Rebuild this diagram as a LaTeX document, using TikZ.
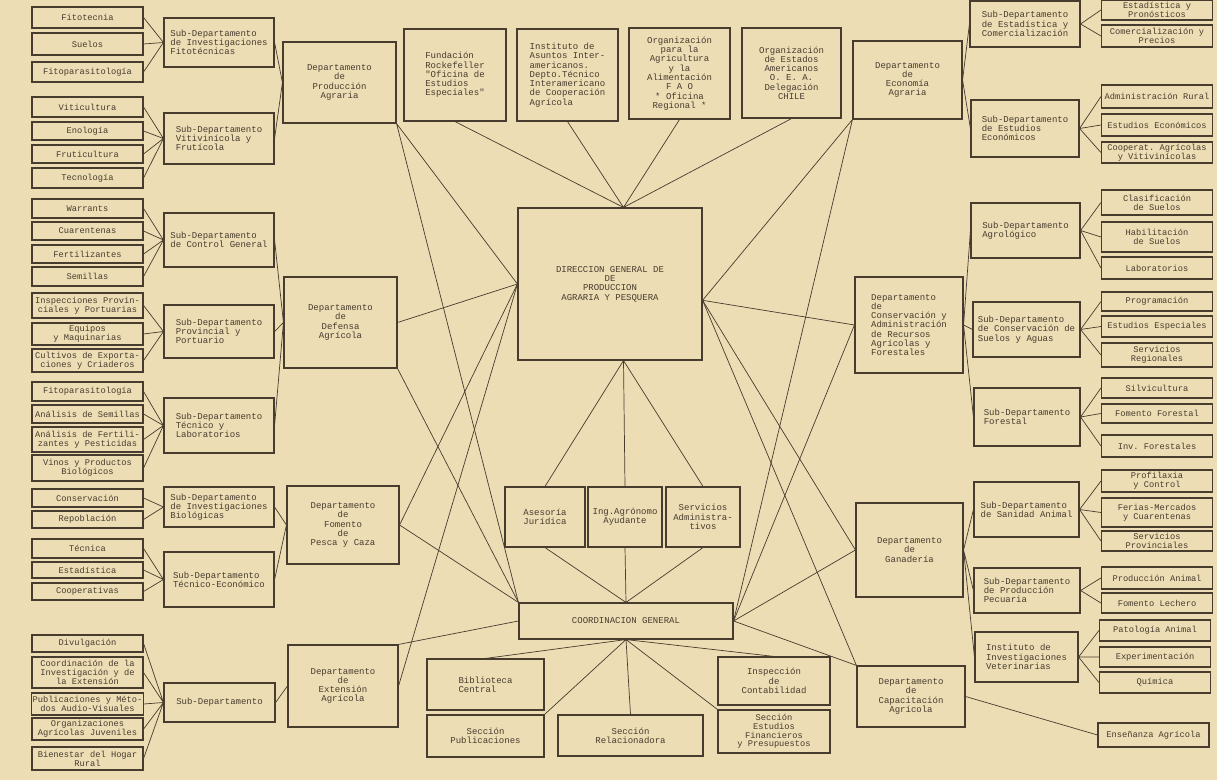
\documentclass[tikz,border=0pt]{standalone}
\usepackage{fontspec}
\setmonofont{Liberation Mono}
\usepackage{xcolor}
\definecolor{paper}{RGB}{236,221,180}
\definecolor{ink}  {RGB}{72 ,60 ,46}
\newcommand{\chartfont}{\ttfamily\fontsize{6.4}{6.6}\selectfont}
\newcommand{\leaffont}{\ttfamily\fontsize{6.2}{6.4}\selectfont}

\begin{document}
\begin{tikzpicture}[
  x=0.025cm, y=-0.025cm,
  every node/.style={font=\chartfont, align=center, text=ink},
  box/.style={draw=ink, line width=0.8pt, inner sep=1pt},
  wh/.style 2 args={minimum width=#1*0.025cm, minimum height=#2*0.025cm},
  leaf/.style={box, wh={111}{#1}, font=\leaffont, inner sep=0.5pt},
  sub/.style={box, align=left},
  dept/.style={box},
  link/.style={draw=ink, line width=0.5pt}
]
  \useasboundingbox (0,0) rectangle (1217,780);
  \fill[paper] (0,0) rectangle (1217,780);

  % Nodes -- left leaves
  \node (fitot)   [leaf=21] at (87.5,17.5)  {Fitotecnia};
  \node (suelos)  [leaf=22] at (87.5,44)    {Suelos};
  \node (fitopA)  [leaf=20] at (87.5,72)    {Fitoparasitología};
  \node (viti)    [leaf=20] at (87.5,107)   {Viticultura};
  \node (enol)    [leaf=18] at (87.5,131)   {Enología};
  \node (fruti)   [leaf=18] at (87.5,154)   {Fruticultura};
  \node (tecno)   [leaf=20] at (87.5,178)   {Tecnología};
  \node (warr)    [leaf=19] at (87.5,208.5) {Warrants};
  \node (cuar)    [leaf=18] at (87.5,231)   {Cuarentenas};
  \node (fert)    [leaf=18] at (87.5,254)   {Fertilizantes};
  \node (semi)    [leaf=19] at (87.5,276.5) {Semillas};
  \node (insp)    [leaf=25] at (87.5,305.5) {Inspecciones Provin-\\ciales y Portuarias};
  \node (equi)    [leaf=22] at (87.5,334)   {Equipos\\y Maquinarias};
  \node (cult)    [leaf=23] at (87.5,360.5) {Cultivos de Exporta-\\ciones y Criaderos};
  \node (fitopB)  [leaf=19] at (87.5,391.5) {Fitoparasitología};
  \node (anSem)   [leaf=18] at (87.5,414)   {Análisis de Semillas};
  \node (anFert)  [leaf=25] at (87.5,439.5) {Análisis de Fertili-\\zantes y Pesticidas};
  \node (vinos)   [leaf=26] at (87.5,468)   {Vinos y Productos\\Biológicos};
  \node (conserv) [leaf=18] at (87.5,498)   {Conservación};
  \node (repob)   [leaf=17] at (87.5,519.5) {Repoblación};
  \node (tecnica) [leaf=19] at (87.5,548.5) {Técnica};
  \node (estad)   [leaf=16] at (87.5,570)   {Estadística};
  \node (coop)    [leaf=17] at (87.5,591.5) {Cooperativas};
  \node (divul)   [leaf=17] at (87.5,643.5) {Divulgación};
  \node (coordIE) [leaf=31] at (87.5,672.5) {Coordinación de la\\Investigación y de\\la Extensión};
  \node (publ)    [leaf=22] at (87.5,704)   {Publicaciones y Méto-\\dos Audio-Visuales};
  \node (orgJ)    [leaf=22] at (87.5,729)   {Organizaciones\\Agrícolas Juveniles};
  \node (bien)    [leaf=23] at (87.5,758.5) {Bienestar del Hogar\\Rural};

  % Nodes -- left sub-departments
  \node (sFito) [sub, wh={110}{49}] at (219,42.5)  {Sub-Departamento\\de Investigaciones\\Fitotécnicas};
  \node (sViti) [sub, wh={110}{51}] at (219,138.5) {Sub-Departamento\\Vitivinícola y\\Frutícola};
  \node (sCtrl) [sub, wh={110}{54}] at (219,240)   {Sub-Departamento\\de Control General};
  \node (sProv) [sub, wh={110}{53}] at (219,331.5) {Sub-Departamento\\Provincial y\\Portuario};
  \node (sTec)  [sub, wh={110}{55}] at (219,425.5) {Sub-Departamento\\Técnico y\\Laboratorios};
  \node (sBio)  [sub, wh={110}{40}] at (219,507)   {Sub-Departamento\\de Investigaciones\\Biológicas};
  \node (sEco)  [sub, wh={110}{55}] at (219,579.5) {Sub-Departamento\\Técnico-Económico};
  \node (sExt)  [sub, wh={111}{39}] at (219.5,702.5) {Sub-Departamento};

  % Nodes -- left departments
  \node (dProd)  [dept, wh={113}{81}] at (339.5,82.5) {Departamento\\de\\Producción\\Agraria};
  \node (dDef)   [dept, wh={113}{91}] at (340.5,322.5) {Departamento\\de\\Defensa\\Agrícola};
  \node (dPesca) [dept, wh={112}{78}] at (343,525) {Departamento\\de\\Fomento\\de\\Pesca y Caza};
  \node (dExt)   [dept, wh={110}{82}] at (343,686) {Departamento\\de\\Extensión\\Agrícola};

  % Nodes -- top row
  \node (rock) [box, align=left, wh={102}{92}] at (455,75)   {Fundación\\Rockefeller\\"Oficina de\\Estudios\\Especiales"};
  \node (iaia) [box, align=left, wh={101}{92}] at (567.5,75) {Instituto de\\Asuntos Inter-\\americanos.\\Depto.Técnico\\Interamericano\\de Cooperación\\Agrícola};
  \node (fao)  [box, wh={101}{91}] at (679.5,73.5) {Organización\\para la\\Agricultura\\y la\\Alimentación\\F A O\\* Oficina\\Regional *};
  \node (oea)  [box, wh={99}{90}]  at (791.5,73)   {Organización\\de Estados\\Americanos\\O. E. A.\\Delegación\\CHILE};
  \node (dEcon) [dept, wh={109}{78}] at (907.5,80) {Departamento\\de\\Economía\\Agraria};

  % Nodes -- centre
  \node (dir)    [box, wh={184}{152}] at (610,284) {DIRECCION GENERAL DE\\DE\\PRODUCCION\\AGRARIA Y PESQUERA};
  \node (ases)   [box, wh={80}{60}]  at (545,517) {Asesoría\\Jurídica};
  \node (inga)   [box, wh={74}{60}]  at (625,517) {Ing.Agrónomo\\Ayudante};
  \node (serv)   [box, wh={74}{60}]  at (703,517) {Servicios\\Administra-\\tivos};
  \node (coordG) [box, wh={214}{36}] at (626,621) {COORDINACION GENERAL};
  \node (bibl)   [box, align=left, wh={117}{51}] at (485.5,684.5) {Biblioteca\\Central};
  \node (spub)   [box, wh={117}{42}] at (485.5,736) {Sección\\Publicaciones};
  \node (srel)   [box, wh={145}{41}] at (630.5,735.5) {Sección\\Relacionadora};
  \node (insC)   [box, wh={112}{48}] at (774,681) {Inspección\\de\\Contabilidad};
  \node (sfin)   [box, wh={112}{43}, font=\ttfamily\fontsize{6.2}{6.2}\selectfont] at (774,731.5) {Sección\\Estudios\\Financieros\\y Presupuestos};

  % Nodes -- right departments
  \node (dCons) [dept, align=left, wh={108}{96}] at (909,325) {Departamento\\de\\Conservación y\\Administración\\de Recursos\\Agrícolas y\\Forestales};
  \node (dGan)  [dept, wh={107}{94}] at (909.5,550) {Departamento\\de\\Ganadería};
  \node (dCap)  [dept, wh={108}{61}] at (911,696.5) {Departamento\\de\\Capacitación\\Agrícola};

  % Nodes -- right sub-departments
  \node (sEst)  [sub, wh={110}{46}] at (1025,24)     {Sub-Departamento\\de Estadística y\\Comercialización};
  \node (sEE)   [sub, wh={108}{57}] at (1025,128.5)  {Sub-Departamento\\de Estudios\\Económicos};
  \node (sAgro) [sub, wh={109}{55}] at (1025.5,230.5) {Sub-Departamento\\Agrológico};
  \node (sCS)   [sub, wh={107}{55}] at (1026.5,329.5) {Sub-Departamento\\de Conservación de\\Suelos y Aguas};
  \node (sFor)  [sub, wh={106}{58}] at (1027,417)    {Sub-Departamento\\Forestal};
  \node (sSan)  [sub, wh={105}{55}] at (1026.5,509.5) {Sub-Departamento\\de Sanidad Animal};
  \node (sPec)  [sub, wh={106}{45}] at (1027,590.5)  {Sub-Departamento\\de Producción\\Pecuaria};
  \node (iVet)  [sub, wh={103}{50}] at (1026.5,657)  {Instituto de\\Investigaciones\\Veterinarias};

  % Nodes -- right leaves
  \node (lEstP) [leaf=20] at (1157,10)    {Estadística y\\Pronósticos};
  \node (lCom)  [leaf=22] at (1157,36)    {Comercialización y\\Precios};
  \node (lAdm)  [leaf=23] at (1157,96.5)  {Administración Rural};
  \node (lEE)   [leaf=22] at (1157,125)   {Estudios Económicos};
  \node (lCoA)  [leaf=21] at (1157,152.5) {Cooperat. Agrícolas\\y Vitivinícolas};
  \node (lClas) [leaf=25] at (1157,202.5) {Clasificación\\de Suelos};
  \node (lHab)  [leaf=30] at (1157,237)   {Habilitación\\de Suelos};
  \node (lLab)  [leaf=22] at (1157,268)   {Laboratorios};
  \node (lProg) [leaf=19] at (1157,301.5) {Programación};
  \node (lEsp)  [leaf=21] at (1157,326.5) {Estudios Especiales};
  \node (lSR)   [leaf=24] at (1157,355)   {Servicios\\Regionales};
  \node (lSilv) [leaf=20] at (1157,388)   {Silvicultura};
  \node (lFF)   [leaf=19] at (1157,413.5) {Fomento Forestal};
  \node (lInvF) [leaf=22] at (1157,446)   {Inv. Forestales};
  \node (lProf) [leaf=22] at (1157,481)   {Profilaxia\\y Control};
  \node (lFer)  [leaf=29] at (1157,512.5) {Ferias-Mercados\\y Cuarentenas};
  \node (lSP)   [leaf=20] at (1157,541)   {Servicios\\Provinciales};
  \node (lPA)   [leaf=22] at (1157,578)   {Producción Animal};
  \node (lFL)   [leaf=20] at (1157,603)   {Fomento Lechero};
  \node (lPat)  [leaf=21] at (1155,630.5) {Patología Animal};
  \node (lExp)  [leaf=20] at (1155,657)   {Experimentación};
  \node (lQui)  [leaf=21] at (1155,682.5) {Química};
  \node (lEns)  [leaf=24] at (1153.5,735) {Enseñanza Agrícola};

  % Paths -- left side
  \draw [link] (fitot.east) -- (sFito.west) (suelos.east) -- (sFito.west) (fitopA.east) -- (sFito.west);
  \draw [link] (viti.east) -- (sViti.west) (enol.east) -- (sViti.west) (fruti.east) -- (sViti.west) (tecno.east) -- (sViti.west);
  \draw [link] (warr.east) -- (sCtrl.west) (cuar.east) -- (sCtrl.west) (fert.east) -- (sCtrl.west) (semi.east) -- (sCtrl.west);
  \draw [link] (insp.east) -- (sProv.west) (equi.east) -- (sProv.west) (cult.east) -- (sProv.west);
  \draw [link] (fitopB.east) -- (sTec.west) (anSem.east) -- (sTec.west) (anFert.east) -- (sTec.west) (vinos.east) -- (sTec.west);
  \draw [link] (conserv.east) -- (sBio.west) (repob.east) -- (sBio.west);
  \draw [link] (tecnica.east) -- (sEco.west) (estad.east) -- (sEco.west) (coop.east) -- (sEco.west);
  \draw [link] (divul.east) -- (sExt.west) (coordIE.east) -- (sExt.west) (publ.east) -- (sExt.west)
               (orgJ.east) -- (sExt.west) (bien.east) -- (sExt.west);
  \draw [link] (sFito.east) -- (dProd.west) (sViti.east) -- (dProd.west);
  \draw [link] (sCtrl.east) -- (dDef.west) (sProv.east) -- (dDef.west) (sTec.east) -- (dDef.west);
  \draw [link] (sBio.east) -- (dPesca.west) (sEco.east) -- (dPesca.west);
  \draw [link] (sExt.east) -- (dExt.west);

  % Paths -- into the Direccion and the Coordinacion
  \draw [link] (dProd.south east) -- (dir.west) (dProd.south east) -- (coordG.north west);
  \draw [link] (dDef.east) -- (dir.west) (dDef.south east) -- (coordG.north west);
  \draw [link] (dPesca.east) -- (dir.west) (dPesca.east) -- (coordG.north west);
  \draw [link] (dExt.east) -- (dir.west) (dExt.north east) -- (coordG.west);
  \draw [link] (rock.south) -- (dir.80) (iaia.south) -- (dir.80) (fao.south) -- (dir.80) (oea.south) -- (dir.80);
  \draw [link] (dEcon.south west) -- (dir.-10) (dEcon.south west) -- (coordG.east);
  \draw [link] (dCons.west) -- (dir.-10) (dCons.west) -- (coordG.east);
  \draw [link] (dGan.west) -- (dir.-10) (dGan.west) -- (coordG.east);
  \draw [link] (dCap.north west) -- (dir.-10) (dCap.north west) -- (coordG.east);
  \draw [link] (dir.-80) -- (ases.north) (dir.-80) -- (inga.north) (dir.-80) -- (serv.north);
  \draw [link] (ases.south) -- (coordG.north) (inga.south) -- (coordG.north) (serv.south) -- (coordG.north);
  \draw [link] (coordG.south) -- (bibl.north) (coordG.south) -- (spub.north east) (coordG.south) -- (srel.north)
               (coordG.south) -- (sfin.north west) (coordG.south) -- (insC.north);

  % Paths -- right side
  \draw [link] (dEcon.east) -- (sEst.west) (dEcon.east) -- (sEE.west);
  \draw [link] (sEst.east) -- (lEstP.west) (sEst.east) -- (lCom.west);
  \draw [link] (sEE.east) -- (lAdm.west) (sEE.east) -- (lEE.west) (sEE.east) -- (lCoA.west);
  \draw [link] (dCons.east) -- (sAgro.west) (dCons.east) -- (sCS.west) (dCons.east) -- (sFor.west);
  \draw [link] (sAgro.east) -- (lClas.west) (sAgro.east) -- (lHab.west) (sAgro.east) -- (lLab.west);
  \draw [link] (sCS.east) -- (lProg.west) (sCS.east) -- (lEsp.west) (sCS.east) -- (lSR.west);
  \draw [link] (sFor.east) -- (lSilv.west) (sFor.east) -- (lFF.west) (sFor.east) -- (lInvF.west);
  \draw [link] (dGan.east) -- (sSan.west) (dGan.east) -- (sPec.west) (dGan.east) -- (iVet.west);
  \draw [link] (sSan.east) -- (lProf.west) (sSan.east) -- (lFer.west) (sSan.east) -- (lSP.west);
  \draw [link] (sPec.east) -- (lPA.west) (sPec.east) -- (lFL.west);
  \draw [link] (iVet.east) -- (lPat.west) (iVet.east) -- (lExp.west) (iVet.east) -- (lQui.west);
  \draw [link] (dCap.east) -- (lEns.west);
\end{tikzpicture}
\end{document}
